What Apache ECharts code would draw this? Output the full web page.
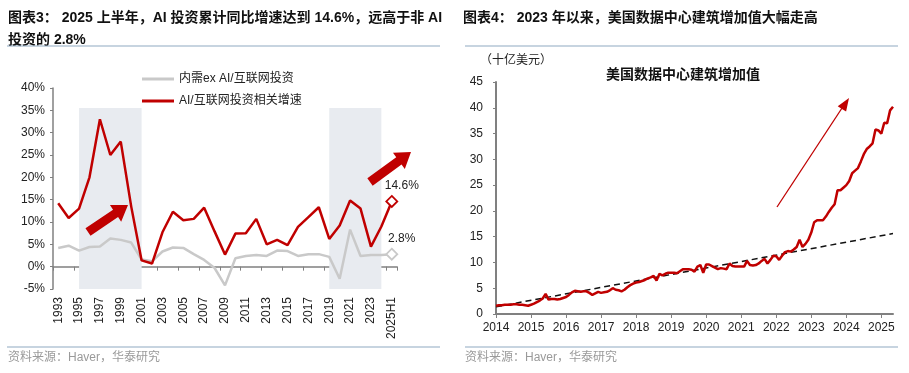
<!DOCTYPE html>
<html><head><meta charset="utf-8">
<script src="https://cdn.jsdelivr.net/npm/echarts/dist/echarts.min.js"></script>
<style>html,body{margin:0;padding:0;background:#fff}#c{width:909px;height:373px}</style>
</head><body><div id="c"></div>
<script>
// ---------- Chart 3 data ----------
const years1 = ['1993','1994','1995','1996','1997','1998','1999','2000','2001','2002','2003','2004','2005','2006','2007','2008','2009','2010','2011','2012','2013','2014','2015','2016','2017','2018','2019','2020','2021','2022','2023','2024','2025H1'];
const aiGrowth = [14.2,10.9,13.0,20.0,33.0,25.0,28.0,13.5,1.4,0.7,7.7,12.3,10.4,10.7,13.2,7.9,2.7,7.4,7.5,10.7,5.0,6.0,4.8,8.9,11.1,13.3,6.2,9.2,14.8,13.0,4.5,9.0,14.6];
const exAiGrowth = [4.2,4.7,3.6,4.4,4.5,6.3,6.0,5.4,1.6,1.2,3.4,4.3,4.2,2.8,1.5,-0.3,-4.2,1.9,2.4,2.6,2.4,3.6,3.5,2.4,2.8,2.8,2.2,-2.7,8.3,2.4,2.6,2.6,2.8];
const bands1 = [['1995','2001'],['2019','2024']];
const yTicks1 = {min:-5, max:40, step:5};

// ---------- Chart 4 data ----------
const dcYears = ['2014','2015','2016','2017','2018','2019','2020','2021','2022','2023','2024','2025'];
const lastMonth2025 = 5;
const dc2014 = [1.6,1.7,1.7,1.8,1.8,1.8,1.9,1.9,1.8,1.8,1.7,1.6];
const dc2015 = [1.8,2.0,2.3,2.6,3.0,3.9,2.8,2.9,2.9,2.8,2.9,3.1];
const dc2016 = [3.3,3.7,4.2,4.5,4.4,4.3,4.4,4.4,4.1,3.7,4.0,4.3];
const dc2017 = [4.1,4.2,4.3,4.6,5.0,4.7,4.6,4.4,4.7,5.2,5.6,5.9];
const dc2018 = [6.1,6.2,6.4,6.6,6.9,7.1,7.4,6.5,7.8,7.5,7.8,8.0];
const dc2019 = [8.0,8.0,7.9,8.3,8.7,8.7,8.7,8.6,8.2,9.2,9.5,8.0];
const dc2020 = [9.6,9.6,9.3,9.0,8.7,8.9,8.8,8.7,9.8,9.3,9.2,9.2];
const dc2021 = [9.2,9.2,10.3,9.5,9.4,9.5,9.8,10.3,10.7,9.8,10.5,11.3];
const dc2022 = [11.2,10.5,11.3,12.0,12.2,12.1,12.5,13.0,14.4,13.0,13.6,14.4];
const dc2023 = [15.8,17.8,18.2,18.2,18.2,18.9,19.8,20.6,21.3,24.0,24.0,24.5];
const dc2024 = [25.0,25.8,27.3,27.8,28.3,29.6,31.0,32.0,32.5,33.1,35.8,35.6];
const dc2025 = [35.0,37.1,37.0,39.5,40.2];
const trendStart = 1.4, trendEnd = 15.6;

const dcValues = [].concat(dc2014,dc2015,dc2016,dc2017,dc2018,dc2019,dc2020,dc2021,dc2022,dc2023,dc2024,dc2025);
const months = [];
dcYears.forEach(y => { const n = (y === '2025') ? lastMonth2025 : 12; for (let m = 1; m <= n; m++) months.push(y + '-' + (m < 10 ? '0' + m : m)); });
const trend = months.map((_, i) => i === 0 ? trendStart : (i === months.length - 1 ? trendEnd : null));

// ---------- helpers ----------
const RED = '#C00000', GRAY = '#C9C9C9', AXIS = '#808080', TXT = '#222';
const FONT = '"Liberation Sans", Arial, "Noto Sans CJK SC", sans-serif';
function blockArrow(x1, y1, x2, y2, sw, hw, hl) {
  const dx = x2 - x1, dy = y2 - y1, L = Math.hypot(dx, dy);
  const ux = dx / L, uy = dy / L, nx = -uy, ny = ux;
  const bx = x2 - ux * hl, by = y2 - uy * hl;
  return [[x1 + nx * sw, y1 + ny * sw], [bx + nx * sw, by + ny * sw], [bx + nx * hw, by + ny * hw], [x2, y2],
          [bx - nx * hw, by - ny * hw], [bx - nx * sw, by - ny * sw], [x1 - nx * sw, y1 - ny * sw]];
}

const lastIdx1 = years1.length - 1;
function withEnd(arr, color) {
  return arr.map((v, i) => i === lastIdx1 ? {
    value: v, symbol: 'diamond', symbolSize: 11,
    itemStyle: {color: '#fff', borderColor: color, borderWidth: 1.8},
    label: {show: true, position: 'top', distance: 3, offset: [10, 0], color: TXT, fontSize: 12, fontFamily: FONT,
            formatter: p => p.value + '%'}
  } : v);
}

const chart = echarts.init(document.getElementById('c'), null, {renderer: 'canvas'});
const option = {
  animation: false,
  backgroundColor: '#fff',
  textStyle: {fontFamily: FONT},
  legend: {
    orient: 'vertical', left: 137, top: 67, itemWidth: 32, itemHeight: 3, itemGap: 8, icon: 'rect',
    textStyle: {fontSize: 12, color: TXT, fontFamily: FONT, lineHeight: 14},
    data: ['内需ex AI/互联网投资', 'AI/互联网投资相关增速']
  },
  grid: [
    {left: 53, top: 88, width: 344, height: 201, containLabel: false, outerBoundsMode: 'none'},
    {left: 496, top: 82, width: 397, height: 232, containLabel: false, outerBoundsMode: 'none'}
  ],
  xAxis: [
    {type: 'category', gridIndex: 0, data: years1, boundaryGap: true, position: 'bottom',
     axisLine: {show: true, onZero: true, lineStyle: {color: AXIS, width: 1.5}},
     axisTick: {show: true, interval: 1, length: 4, lineStyle: {color: AXIS, width: 1}},
     axisLabel: {show: false}, splitLine: {show: false}},
    {type: 'category', gridIndex: 0, data: years1, boundaryGap: true, position: 'bottom',
     axisLine: {show: false, onZero: false}, axisTick: {show: false}, splitLine: {show: false},
     axisLabel: {show: true, interval: 1, rotate: 90, margin: 8, fontSize: 12, color: TXT, fontFamily: FONT}},
    {type: 'category', gridIndex: 1, data: months, boundaryGap: false, position: 'bottom',
     axisLine: {show: true, onZero: false, lineStyle: {color: AXIS, width: 2}},
     axisTick: {show: true, interval: 11, length: 4, lineStyle: {color: AXIS, width: 1}},
     axisLabel: {show: true, interval: 11, margin: 8, fontSize: 12, color: TXT, fontFamily: FONT, formatter: v => v.slice(0, 4)},
     splitLine: {show: false}}
  ],
  yAxis: [
    {type: 'value', gridIndex: 0, min: yTicks1.min, max: yTicks1.max, interval: yTicks1.step,
     axisLine: {show: true, lineStyle: {color: AXIS, width: 1.5}},
     axisTick: {show: true, length: 3, lineStyle: {color: AXIS}},
     axisLabel: {margin: 8, fontSize: 12, color: TXT, fontFamily: FONT, formatter: '{value}%'},
     splitLine: {show: false}},
    {type: 'value', gridIndex: 1, min: 0, max: 45, interval: 5,
     axisLine: {show: true, lineStyle: {color: AXIS, width: 2}},
     axisTick: {show: true, length: 3, lineStyle: {color: AXIS}},
     axisLabel: {margin: 13, fontSize: 12, color: TXT, fontFamily: FONT},
     splitLine: {show: false}}
  ],
  series: [
    {name: 'band', type: 'line', xAxisIndex: 0, yAxisIndex: 0, data: [], z: 0, clip: false, silent: true,
     markArea: {silent: true, itemStyle: {color: '#E8EBF0'},
       data: bands1.map(b => [{xAxis: b[0], yAxis: 35.5}, {xAxis: b[1], yAxis: -6.9}])}},
    {name: '内需ex AI/互联网投资', type: 'line', xAxisIndex: 0, yAxisIndex: 0, data: withEnd(exAiGrowth, GRAY),
     symbol: 'none', showSymbol: true, color: GRAY, lineStyle: {color: GRAY, width: 2.5}, z: 3},
    {name: 'AI/互联网投资相关增速', type: 'line', xAxisIndex: 0, yAxisIndex: 0, data: withEnd(aiGrowth, RED),
     symbol: 'none', showSymbol: true, color: RED, lineStyle: {color: RED, width: 2.5}, z: 4},
    {name: '趋势', type: 'line', xAxisIndex: 2, yAxisIndex: 1, data: trend, connectNulls: true, symbol: 'none',
     lineStyle: {color: '#111', width: 1.5, type: [6, 4]}, z: 3},
    {name: '美国数据中心建筑增加值', type: 'line', xAxisIndex: 2, yAxisIndex: 1, data: dcValues, symbol: 'none',
     lineStyle: {color: RED, width: 2.5}, z: 4}
  ],
  graphic: [
    {type: 'text', x: 8, y: 18, style: {text: '图表3： 2025 上半年，AI 投资累计同比增速达到 14.6%，远高于非 AI', font: 'bold 14px ' + FONT, fill: '#111', verticalAlign: 'middle'}},
    {type: 'text', x: 8, y: 40, style: {text: '投资的 2.8%', font: 'bold 14px ' + FONT, fill: '#111', verticalAlign: 'middle'}},
    {type: 'text', x: 463, y: 18, style: {text: '图表4： 2023 年以来，美国数据中心建筑增加值大幅走高', font: 'bold 14px ' + FONT, fill: '#111', verticalAlign: 'middle'}},
    {type: 'line', shape: {x1: 7, y1: 46, x2: 440, y2: 46}, style: {stroke: '#8FA9C2', lineWidth: 1.2}},
    {type: 'line', shape: {x1: 465, y1: 46, x2: 898, y2: 46}, style: {stroke: '#8FA9C2', lineWidth: 1.2}},
    {type: 'line', shape: {x1: 7, y1: 347, x2: 440, y2: 347}, style: {stroke: '#8FA9C2', lineWidth: 1.2}},
    {type: 'line', shape: {x1: 465, y1: 347, x2: 898, y2: 347}, style: {stroke: '#8FA9C2', lineWidth: 1.2}},
    {type: 'text', x: 8, y: 358, style: {text: '资料来源：Haver，华泰研究', font: '12px ' + FONT, fill: '#9a9a9a', verticalAlign: 'middle'}},
    {type: 'text', x: 465, y: 358, style: {text: '资料来源：Haver，华泰研究', font: '12px ' + FONT, fill: '#9a9a9a', verticalAlign: 'middle'}},
    {type: 'text', x: 480, y: 61, style: {text: '（十亿美元）', font: '12px ' + FONT, fill: TXT, verticalAlign: 'middle'}},
    {type: 'text', x: 683, y: 75, style: {text: '美国数据中心建筑增加值', font: 'bold 14px ' + FONT, fill: '#111', align: 'center', verticalAlign: 'middle'}},
    {type: 'polygon', z: 10, shape: {points: blockArrow(88, 232, 128, 205, 4.5, 10, 15)}, style: {fill: RED}},
    {type: 'polygon', z: 10, shape: {points: blockArrow(370, 182, 411, 152, 4.5, 10, 15)}, style: {fill: RED}},
    {type: 'line', z: 10, shape: {x1: 777, y1: 207, x2: 844, y2: 105}, style: {stroke: RED, lineWidth: 1.3}},
    {type: 'polygon', z: 10, shape: {points: blockArrow(836, 118, 849, 98, 0, 5, 13)}, style: {fill: RED}}
  ]
};
chart.setOption(option);
</script></body></html>
